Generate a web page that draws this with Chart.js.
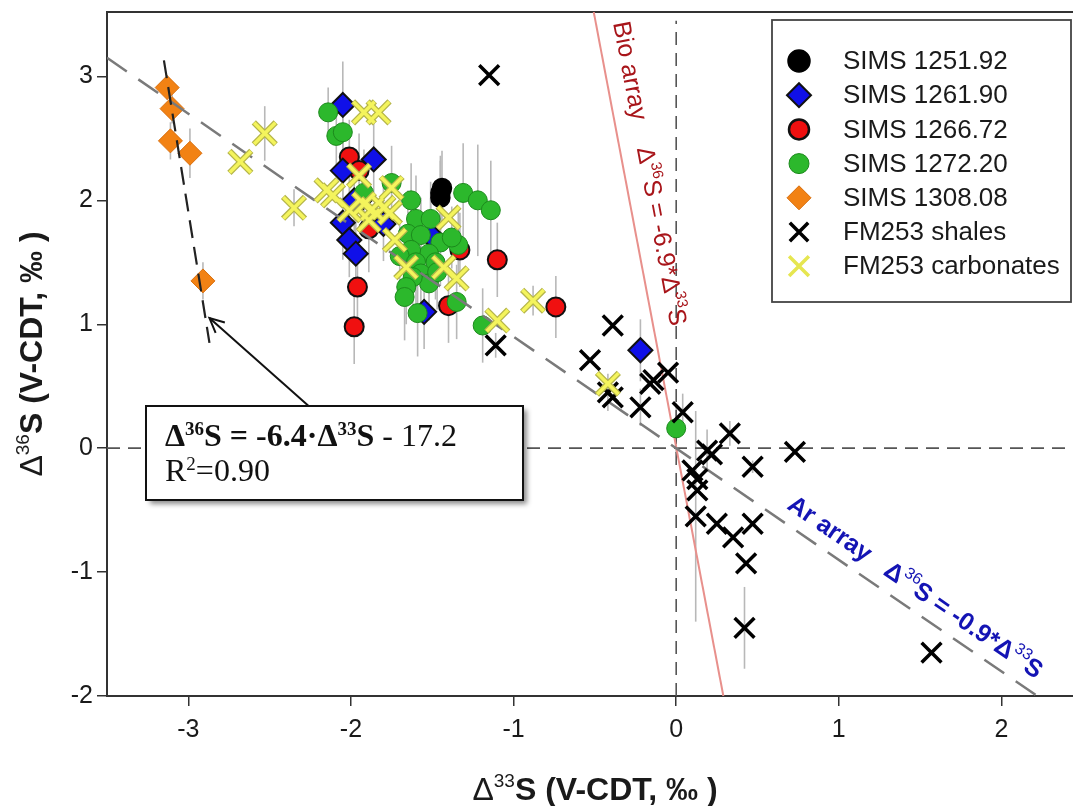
<!DOCTYPE html>
<html>
<head>
<meta charset="utf-8">
<script src="https://cdn.jsdelivr.net/npm/chart.js@4.4.0/dist/chart.umd.min.js"></script>
<style>
  html, body { margin: 0; padding: 0; background: #fff; overflow: hidden; }
  #wrap { width: 1073px; height: 806px; }
</style>
</head>
<body>
<div id="wrap"><canvas id="myChart" width="1073" height="806"></canvas></div>
<script>
// ticks
var xTicks = [-3, -2, -1, 0, 1, 2];
var yTicks = [-2, -1, 0, 1, 2, 3];

// [d33S, d36S, y error]
var sims125192 = [[-1.45, 2.02, 0.30], [-1.45, 2.06, 0.30], [-1.44, 2.10, 0.30]];
var sims126190 = [[-2.05, 2.77, 0.35], [-1.86, 2.33, 0.30], [-2.05, 2.24, 0.30], [-1.93, 2.02, 0.30],
  [-1.98, 2.00, 0.25], [-2.05, 1.82, 0.30], [-1.80, 1.81, 0.30], [-2.01, 1.68, 0.30], [-1.97, 1.57, 0.30],
  [-1.51, 1.72, 0.30], [-1.55, 1.10, 0.30], [-0.22, 0.79, 0.25]];
var sims126672 = [[-2.01, 2.35, 0.30], [-1.95, 2.24, 0.30], [-1.89, 1.77, 0.35], [-1.96, 1.30, 0.25],
  [-1.98, 0.98, 0.30], [-1.33, 1.60, 0.30], [-1.10, 1.52, 0.30], [-1.40, 1.15, 0.30], [-0.74, 1.14, 0.25]];
var sims127220 = [[-2.14, 2.71, 0.20], [-2.09, 2.52, 0.25], [-2.05, 2.55, 0.30], [-1.75, 2.14, 0.30],
  [-1.92, 2.06, 0.35], [-1.63, 2.00, 0.30], [-1.31, 2.06, 0.40], [-1.22, 2.00, 0.45], [-1.14, 1.92, 0.40],
  [-1.60, 1.85, 0.35], [-1.51, 1.85, 0.30], [-1.65, 1.73, 0.35], [-1.57, 1.72, 0.30], [-1.45, 1.66, 0.35],
  [-1.34, 1.64, 0.30], [-1.52, 1.57, 0.30], [-1.63, 1.60, 0.35], [-1.70, 1.55, 0.30], [-1.60, 1.50, 0.35],
  [-1.48, 1.50, 0.30], [-1.38, 1.70, 0.25], [-1.57, 1.41, 0.35], [-1.52, 1.33, 0.30], [-1.62, 1.38, 0.30],
  [-1.47, 1.42, 0.30], [-1.66, 1.30, 0.30], [-1.67, 1.22, 0.35], [-1.35, 1.18, 0.30], [-1.59, 1.09, 0.35],
  [-1.19, 0.99, 0.30], [0.00, 0.16, 0.20]];
var sims130808 = [[-3.13, 2.91, 0.10], [-3.10, 2.74, 0.12], [-3.11, 2.48, 0.15], [-2.99, 2.38, 0.20], [-2.91, 1.35, 0.15]];
var fm253Shales = [[-1.15, 3.01, 0], [-1.11, 0.83, 0.10], [-0.39, 0.99, 0], [-0.53, 0.71, 0], [-0.42, 0.45, 0.15],
  [-0.39, 0.41, 0], [-0.16, 0.52, 0], [-0.14, 0.55, 0], [-0.05, 0.61, 0], [-0.22, 0.33, 0.15], [0.04, 0.29, 0.15],
  [0.33, 0.12, 0.10], [0.19, -0.02, 0.17], [0.22, -0.05, 0], [0.73, -0.03, 0], [0.47, -0.15, 0.05],
  [0.10, -0.18, 0], [0.13, -0.25, 0], [0.13, -0.34, 0], [0.12, -0.55, 0.85], [0.25, -0.61, 0],
  [0.35, -0.72, 0], [0.47, -0.61, 0], [0.43, -0.93, 0], [0.42, -1.45, 0.33], [1.57, -1.65, 0]];
var fm253Carbonates = [[-2.68, 2.31, 0], [-2.53, 2.54, 0.22], [-2.35, 1.94, 0.15], [-2.15, 2.08, 0], [-2.11, 2.04, 0],
  [-1.92, 2.71, 0], [-1.83, 2.71, 0], [-1.95, 2.20, 0], [-1.75, 2.10, 0], [-2.01, 1.92, 0], [-1.92, 1.97, 0],
  [-1.87, 1.93, 0], [-1.80, 1.94, 0], [-1.76, 1.90, 0], [-1.89, 1.84, 0], [-1.73, 1.68, 0], [-1.66, 1.46, 0],
  [-1.43, 1.46, 0], [-1.35, 1.37, 0], [-1.40, 1.86, 0], [-1.10, 1.03, 0], [-0.88, 1.19, 0.12], [-0.42, 0.52, 0]];

// reference lines (end points)
var arArray = [[-3.5, 3.15], [2.22, -2.0]];
var bioArray = [[-0.507, 3.52], [0.29, -2.0]];
var fitLine = [[-3.15, 3.13], [-2.87, 0.85]];
var zeroV = [[0, -2], [0, 3.45]];
var zeroH = [[-3.5, 0], [2.5, 0]];
var arrowPts = [[-2.26, 0.34], [-2.87, 1.05]];

function pts(arr) {
  return arr.map(function (p) { return { x: p[0], y: p[1], e: p[2] || 0 }; });
}

function lineDs(arr, color, width, dash, order) {
  return { type: 'scatter', data: pts(arr), showLine: true, pointRadius: 0, borderColor: color,
    borderWidth: width, borderDash: dash, fill: false, order: order, isLine: true };
}

var datasets = [
  lineDs(zeroH, '#555', 1.6, [13, 8], 100),
  lineDs(zeroV, '#555', 1.6, [13, 8], 100),
  lineDs(bioArray, '#e8908c', 2, [], 95),
  { label: 'SIMS 1251.92', data: pts(sims125192), pointStyle: 'circle', pointRadius: 9.5, backgroundColor: '#000', borderColor: '#000', borderWidth: 1.5, order: 60 },
  { label: 'SIMS 1266.72', data: pts(sims126672), pointStyle: 'circle', pointRadius: 9.5, backgroundColor: '#f01010', borderColor: '#111', borderWidth: 2, order: 58 },
  { label: 'SIMS 1261.90', data: pts(sims126190), pointStyle: 'rectRot', pointRadius: 12, backgroundColor: '#1010e8', borderColor: '#111', borderWidth: 2, order: 56 },
  { label: 'SIMS 1272.20', data: pts(sims127220), pointStyle: 'circle', pointRadius: 9.5, backgroundColor: '#2cb82c', borderColor: '#1c8a1c', borderWidth: 1, order: 54 },
  { label: 'SIMS 1308.08', data: pts(sims130808), pointStyle: 'rectRot', pointRadius: 12, backgroundColor: '#f28214', borderColor: '#d86e0c', borderWidth: 1, order: 52 },
  lineDs(arArray, '#7a7a7a', 2.5, [24, 14], 40),
  lineDs(fitLine, '#222', 2.2, [18, 9], 38),
  { label: 'FM253 shales', data: pts(fm253Shales), pointStyle: 'crossRot', pointRadius: 14, borderColor: '#000', borderWidth: 3.5, order: 30 },
  { label: 'FM253 carbonates', data: pts(fm253Carbonates), pointStyle: 'crossRot', pointRadius: 15.5, borderColor: '#b5b54a', borderWidth: 6, order: 22, isOutline: true },
  { label: 'FM253 carbonates', data: pts(fm253Carbonates), pointStyle: 'crossRot', pointRadius: 15, borderColor: '#f4f45c', borderWidth: 3.5, order: 20 }
];

var legendItems = [
  { t: 'SIMS 1251.92', s: 'circle', r: 11, bg: '#000', bc: '#000', bw: 1.5 },
  { t: 'SIMS 1261.90', s: 'rectRot', r: 12, bg: '#1010e8', bc: '#111', bw: 2 },
  { t: 'SIMS 1266.72', s: 'circle', r: 10, bg: '#f01010', bc: '#111', bw: 2.5 },
  { t: 'SIMS 1272.20', s: 'circle', r: 10, bg: '#2cb82c', bc: '#1c8a1c', bw: 1 },
  { t: 'SIMS 1308.08', s: 'rectRot', r: 12, bg: '#f28214', bc: '#d86e0c', bw: 1 },
  { t: 'FM253 shales', s: 'crossRot', r: 13, bg: '#000', bc: '#000', bw: 3.5 },
  { t: 'FM253 carbonates', s: 'crossRot', r: 14, bg: '#f4f45c', bc: '#e6e650', bw: 3.5 }
];

function rich(ctx, parts, x, y) {
  var cx = x;
  parts.forEach(function (p) {
    ctx.font = p.f;
    ctx.fillText(p.t, cx, y - (p.up || 0));
    cx += ctx.measureText(p.t).width;
  });
  return cx - x;
}

function richWidth(ctx, parts) {
  var w = 0;
  parts.forEach(function (p) { ctx.font = p.f; w += ctx.measureText(p.t).width; });
  return w;
}

var decor = {
  id: 'decor',
  beforeDatasetsDraw: function (chart) {
    var ctx = chart.ctx, x = chart.scales.x, y = chart.scales.y, a = chart.chartArea;
    ctx.save();
    // top frame
    ctx.strokeStyle = '#333'; ctx.lineWidth = 2;
    ctx.beginPath(); ctx.moveTo(a.left, a.top); ctx.lineTo(a.right, a.top); ctx.stroke();
    // error bars
    ctx.beginPath(); ctx.rect(a.left, a.top, a.right - a.left, a.bottom - a.top); ctx.clip();
    ctx.strokeStyle = '#b8b8b8'; ctx.lineWidth = 1.6;
    chart.data.datasets.forEach(function (ds) {
      if (ds.isLine || ds.isOutline) return;
      ds.data.forEach(function (p) {
        if (!p.e) return;
        var px = x.getPixelForValue(p.x);
        ctx.beginPath();
        ctx.moveTo(px, y.getPixelForValue(p.y - p.e));
        ctx.lineTo(px, y.getPixelForValue(p.y + p.e));
        ctx.stroke();
      });
    });
    ctx.restore();
  },
  afterDatasetsDraw: function (chart) {
    var ctx = chart.ctx, x = chart.scales.x, y = chart.scales.y, a = chart.chartArea;
    ctx.save();

    // legend box
    ctx.fillStyle = '#fff'; ctx.strokeStyle = '#444'; ctx.lineWidth = 1.8;
    ctx.fillRect(772, 20, 299, 282); ctx.strokeRect(772, 20, 299, 282);
    legendItems.forEach(function (it, i) {
      var cy = 61 + i * 34.2;
      ctx.fillStyle = it.bg; ctx.strokeStyle = it.bc; ctx.lineWidth = it.bw;
      Chart.helpers.drawPoint(ctx, { pointStyle: it.s, radius: it.r, rotation: 0, borderWidth: it.bw }, 799, cy);
      ctx.fillStyle = '#1a1a1a'; ctx.font = '26px "Liberation Sans", Arial, sans-serif';
      ctx.textBaseline = 'middle';
      ctx.fillText(it.t, 843, cy + 1);
    });
    ctx.textBaseline = 'alphabetic';

    // arrow
    var x0 = x.getPixelForValue(arrowPts[0][0]), y0 = y.getPixelForValue(arrowPts[0][1]);
    var x1 = x.getPixelForValue(arrowPts[1][0]), y1 = y.getPixelForValue(arrowPts[1][1]);
    ctx.strokeStyle = '#111'; ctx.lineWidth = 2;
    ctx.beginPath(); ctx.moveTo(x0, y0); ctx.lineTo(x1, y1); ctx.stroke();
    var ang = Math.atan2(y1 - y0, x1 - x0);
    ctx.beginPath();
    ctx.moveTo(x1 - 16 * Math.cos(ang - 0.45), y1 - 16 * Math.sin(ang - 0.45));
    ctx.lineTo(x1, y1);
    ctx.lineTo(x1 - 16 * Math.cos(ang + 0.45), y1 - 16 * Math.sin(ang + 0.45));
    ctx.stroke();

    // regression box
    ctx.save();
    ctx.shadowColor = 'rgba(0,0,0,0.45)'; ctx.shadowBlur = 5; ctx.shadowOffsetX = 4; ctx.shadowOffsetY = 4;
    ctx.fillStyle = '#fff'; ctx.fillRect(146, 406, 377, 94);
    ctx.restore();
    ctx.strokeStyle = '#111'; ctx.lineWidth = 2; ctx.strokeRect(146, 406, 377, 94);
    ctx.fillStyle = '#111';
    var fb = 'bold 32px "Liberation Serif", "Times New Roman", serif';
    var fr = '32px "Liberation Serif", "Times New Roman", serif';
    var sb = 'bold 19px "Liberation Serif", "Times New Roman", serif';
    var sr = '19px "Liberation Serif", "Times New Roman", serif';
    rich(ctx, [{ t: '\u0394', f: fb }, { t: '36', f: sb, up: 11 }, { t: 'S = -6.4\u00b7\u0394', f: fb },
      { t: '33', f: sb, up: 11 }, { t: 'S', f: fb }, { t: ' - 17.2', f: fr }], 165, 446);
    rich(ctx, [{ t: 'R', f: fr }, { t: '2', f: sr, up: 11 }, { t: '=0.90', f: fr }], 165, 481);

    // Bio array label
    ctx.save();
    ctx.beginPath(); ctx.rect(a.left, a.top, a.right - a.left, a.bottom - a.top); ctx.clip();
    ctx.fillStyle = '#a8151a';
    ctx.translate(613, 23);
    ctx.rotate(Math.atan2(y.getPixelForValue(bioArray[1][1]) - y.getPixelForValue(bioArray[0][1]),
      x.getPixelForValue(bioArray[1][0]) - x.getPixelForValue(bioArray[0][0])));
    var fa = '25px "Liberation Sans", Arial, sans-serif';
    var fs = '15px "Liberation Sans", Arial, sans-serif';
    rich(ctx, [{ t: 'Bio array    \u0394', f: fa }, { t: '36', f: fs, up: 11 }, { t: 'S = -6.9*\u0394', f: fa },
      { t: '33', f: fs, up: 11 }, { t: 'S', f: fa }], 0, 0);
    ctx.restore();

    // Ar array label
    ctx.save();
    ctx.fillStyle = '#1414b4';
    ctx.translate(786, 508);
    ctx.rotate(Math.atan2(y.getPixelForValue(arArray[1][1]) - y.getPixelForValue(arArray[0][1]),
      x.getPixelForValue(arArray[1][0]) - x.getPixelForValue(arArray[0][0])));
    var ga = 'bold 25px "Liberation Sans", Arial, sans-serif';
    var gs = '16px "Liberation Sans", Arial, sans-serif';
    rich(ctx, [{ t: 'Ar array   \u0394', f: ga }, { t: '36', f: gs, up: 11 }, { t: 'S = -0.9*\u0394', f: ga },
      { t: '33', f: gs, up: 11 }, { t: 'S', f: ga }], 0, 0);
    ctx.restore();

    // axis titles, centred on the plot area
    ctx.fillStyle = '#1a1a1a';
    var ta = 'bold 32px "Liberation Sans", Arial, sans-serif';
    var td = '32px "Liberation Sans", Arial, sans-serif';
    var ts = '19px "Liberation Sans", Arial, sans-serif';
    var xt = [{ t: '\u0394', f: td }, { t: '33', f: ts, up: 13 }, { t: 'S (V-CDT, \u2030 )', f: ta }];
    var w = richWidth(ctx, xt);
    rich(ctx, xt, (a.left + 1083) / 2 - w / 2, 800);
    var yt = [{ t: '\u0394', f: td }, { t: '36', f: ts, up: 13 }, { t: 'S (V-CDT, \u2030 )', f: ta }];
    ctx.translate(42, (a.top + a.bottom) / 2);
    ctx.rotate(-Math.PI / 2);
    rich(ctx, yt, -richWidth(ctx, yt) / 2, 0);
    ctx.restore();
  }
};

var myChart = new Chart(document.getElementById('myChart'), {
  type: 'scatter',
  data: { datasets: datasets },
  options: {
    responsive: false,
    animation: false,
    events: [],
    layout: { autoPadding: false, padding: { top: 12, right: 0, left: 0, bottom: 0 } },
    plugins: { legend: { display: false }, tooltip: { enabled: false } },
    scales: {
      x: {
        type: 'linear', min: -3.5, max: 2.44,
        afterBuildTicks: function (s) { s.ticks = xTicks.map(function (v) { return { value: v }; }); },
        afterFit: function (s) { s.height = 110; s.paddingLeft = 0; s.paddingRight = 0; },
        ticks: { color: '#1a1a1a', padding: 9, font: { size: 25, family: '"Liberation Sans", Arial, sans-serif' } },
        grid: { drawOnChartArea: false, drawTicks: true, tickLength: 10, color: '#333', lineWidth: 1.5 },
        border: { display: true, color: '#333', width: 2 }
      },
      y: {
        type: 'linear', min: -2, max: 3.52,
        afterBuildTicks: function (s) { s.ticks = yTicks.map(function (v) { return { value: v }; }); },
        afterFit: function (s) { s.width = 107; s.paddingTop = 0; s.paddingBottom = 0; },
        ticks: { color: '#1a1a1a', padding: 4, font: { size: 25, family: '"Liberation Sans", Arial, sans-serif' } },
        grid: { drawOnChartArea: false, drawTicks: true, tickLength: 10, color: '#333', lineWidth: 1.5 },
        border: { display: true, color: '#333', width: 2 }
      }
    }
  },
  plugins: [decor]
});
</script>
</body>
</html>
